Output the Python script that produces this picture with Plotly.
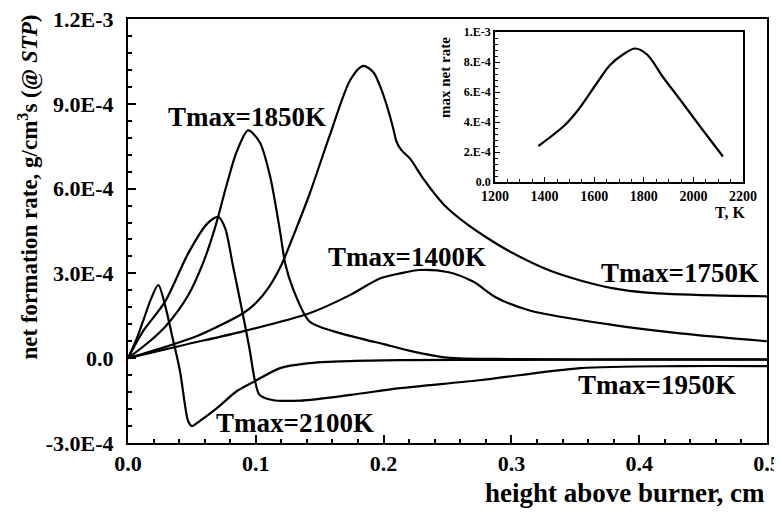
import numpy as np
import plotly.graph_objects as go

# ---------------- data (main panel) ----------------
# height above burner, cm  /  net formation rate, 1e-4 g/cm3s
x_2100 = [0, 0.006, 0.0117, 0.018, 0.0237, 0.029, 0.035, 0.0407, 0.0446, 0.047, 0.050,
          0.0563, 0.0696, 0.085, 0.0994, 0.119, 0.14, 0.174, 0.213, 0.3, 0.4, 0.5]
y_2100 = [0, 0.6, 1.3, 2.1, 2.59, 1.87, 0.7, -0.46, -1.66, -2.22, -2.4,
          -2.22, -1.77, -1.17, -0.81, -0.35, -0.18, -0.10, -0.07, -0.06, -0.05, -0.05]

x_1950 = [0, 0.0117, 0.029, 0.047, 0.062, 0.0706, 0.076, 0.082, 0.09, 0.095, 0.0994,
          0.103, 0.113, 0.135, 0.174, 0.213, 0.275, 0.354, 0.432, 0.5]
y_1950 = [0, 0.95, 2.0, 3.7, 4.76, 5.0, 4.6, 3.3, 1.52, 0.35, -0.81,
          -1.3, -1.48, -1.5, -1.3, -1.06, -0.78, -0.35, -0.28, -0.28]

x_1850 = [0, 0.017, 0.03, 0.047, 0.059, 0.068, 0.077, 0.085, 0.094, 0.103, 0.111,
          0.119, 0.123, 0.129, 0.142, 0.161, 0.187, 0.2, 0.22, 0.25, 0.3, 0.4, 0.5]
y_1850 = [0, 0.6, 1.16, 2.22, 3.4, 4.6, 6.1, 7.3, 8.06, 7.65, 6.47,
          4.48, 3.35, 2.47, 1.3, 0.95, 0.64, 0.5, 0.27, 0.02, -0.03, -0.04, -0.04]

x_1750 = [0, 0.03, 0.056, 0.09, 0.1, 0.11, 0.12, 0.13, 0.142, 0.158, 0.174, 0.184,
          0.192, 0.197, 0.2025, 0.2076, 0.2102, 0.2141, 0.2207, 0.231, 0.2468, 0.265,
          0.283, 0.301, 0.33, 0.354, 0.38, 0.406, 0.458, 0.5]
y_1750 = [0, 0.41, 0.82, 1.59, 1.95, 2.5, 3.3, 4.4, 5.8, 7.9, 9.85, 10.34,
          10.12, 9.65, 8.94, 8.12, 7.65, 7.35, 7.06, 6.35, 5.45, 4.75,
          4.2, 3.72, 3.1, 2.75, 2.47, 2.32, 2.22, 2.19]

x_1400 = [0, 0.043, 0.09, 0.142, 0.174, 0.197, 0.213, 0.228, 0.25, 0.27, 0.288,
          0.315, 0.38, 0.432, 0.5]
y_1400 = [0, 0.46, 0.95, 1.59, 2.24, 2.82, 3.0, 3.12, 3.05, 2.71, 2.15,
          1.68, 1.17, 0.88, 0.6]

series = [
    ("Tmax=2100K", x_2100, y_2100),
    ("Tmax=1950K", x_1950, y_1950),
    ("Tmax=1850K", x_1850, y_1850),
    ("Tmax=1750K", x_1750, y_1750),
    ("Tmax=1400K", x_1400, y_1400),
]

# curve labels: (text, x, y[1e-4])
labels = [
    ("Tmax=1850K", 0.093, 8.54),
    ("Tmax=1400K", 0.218, 3.57),
    ("Tmax=1750K", 0.432, 3.0),
    ("Tmax=1950K", 0.414, -0.95),
    ("Tmax=2100K", 0.131, -2.3),
]

y_tickvals = [-3.0e-4, 0.0, 3.0e-4, 6.0e-4, 9.0e-4, 1.2e-3]
y_ticktext = ["-3.0E-4", "0.0", "3.0E-4", "6.0E-4", "9.0E-4", "1.2E-3"]

# ---------------- data (inset) ----------------
T_inset = [1375, 1482, 1535, 1611, 1664, 1716, 1765, 1813, 1877, 1946, 2027, 2119]
rate_inset = [2.4, 3.8, 4.8, 6.6, 7.8, 8.5, 8.9, 8.5, 7.0, 5.5, 3.7, 1.7]  # 1e-4
inset_y_tickvals = [0, 2e-4, 4e-4, 6e-4, 8e-4, 1e-3]
inset_y_ticktext = ["0.0", "2.E-4", "4.E-4", "6.E-4", "8.E-4", "1.E-3"]

FONT = "Liberation Serif"

# The page body has an 8px margin, so the figure is drawn 8px in from the
# window's top-left corner; the figure is sized to fill the rest of the window.
PW, PH = 639, 424          # plot area in window pixels (x 128..767, y 19..443)

fig = go.Figure()
for name, xs, ys in series:
    fig.add_trace(go.Scatter(
        x=xs, y=[v * 1e-4 for v in ys], mode="lines", name=name,
        line=dict(color="black", width=2.2, shape="spline", smoothing=0.8),
        xaxis="x", yaxis="y", hoverinfo="skip"))

fig.add_trace(go.Scatter(
    x=T_inset, y=[v * 1e-4 for v in rate_inset], mode="lines",
    line=dict(color="black", width=2.2, shape="spline", smoothing=1.0),
    xaxis="x2", yaxis="y2", hoverinfo="skip"))

for text, lx, ly in labels:
    fig.add_annotation(x=lx, y=ly * 1e-4, xref="x", yref="y", text=text,
                       showarrow=False, xanchor="center", yanchor="middle",
                       font=dict(family=FONT, size=27, color="black", weight="bold"))

# axis titles
fig.add_annotation(x=(28 - 128) / PW, y=(443 - 362) / PH, xref="paper", yref="paper",
                   text="net formation rate, g/cm<sup>3</sup>s (@ <i>STP</i>)",
                   textangle=-90, showarrow=False, xanchor="center", yanchor="bottom",
                   font=dict(family=FONT, size=23, color="black", weight="bold"))
fig.add_annotation(x=1.0, y=(443 - 493) / PH, xref="paper", yref="paper",
                   text="height above burner, cm", showarrow=False,
                   xanchor="right", yanchor="middle",
                   font=dict(family=FONT, size=27, color="black", weight="bold"))
# inset titles
fig.add_annotation(x=(445 - 128) / PW, y=(443 - 78) / PH, xref="paper", yref="paper",
                   text="max net rate", textangle=-90, showarrow=False,
                   xanchor="center", yanchor="middle",
                   font=dict(family=FONT, size=15, color="black", weight="bold"))
fig.add_annotation(x=(730 - 128) / PW, y=(443 - 213) / PH, xref="paper", yref="paper",
                   text="T, K", showarrow=False, xanchor="center", yanchor="middle",
                   font=dict(family=FONT, size=16, color="black", weight="bold"))

axis_common = dict(showgrid=False, zeroline=False, showline=True, linecolor="black",
                   mirror=True, ticks="inside", tickcolor="black", automargin=False,
                   ticklabeloverflow="allow")

fig.update_layout(
    width=774, height=506,
    margin=dict(l=120, r=15, t=11, b=71, autoexpand=False),
    paper_bgcolor="white", plot_bgcolor="white",
    showlegend=False,
    xaxis=dict(**axis_common, range=[0, 0.5], tickmode="linear", tick0=0, dtick=0.1,
               tickformat=".1f", linewidth=2, ticklen=8, tickwidth=1.5,
               minor=dict(ticks="inside", ticklen=4, tickcolor="black", dtick=0.02, tick0=0),
               tickfont=dict(family=FONT, size=22, color="black", weight="bold"),
               domain=[0, 1]),
    yaxis=dict(**axis_common, range=[-3.0e-4, 1.2e-3], tickmode="array",
               tickvals=y_tickvals, ticktext=y_ticktext, linewidth=2, ticklen=8, tickwidth=1.5,
               ticklabelstandoff=8,
               minor=dict(ticks="inside", ticklen=4, tickcolor="black",
                          tickmode="linear", dtick=6e-5, tick0=-3e-4),
               tickfont=dict(family=FONT, size=22, color="black", weight="bold"),
               domain=[0, 1]),
    xaxis2=dict(**axis_common, range=[1200, 2200], tickmode="linear", tick0=1200, dtick=200,
                linewidth=1.5, ticklen=5, tickwidth=1,
                minor=dict(ticks="inside", ticklen=3, tickcolor="black", dtick=50, tick0=1200),
                tickfont=dict(family=FONT, size=14, color="black", weight="bold"),
                domain=[(495 - 128) / PW, (743 - 128) / PW], anchor="y2"),
    yaxis2=dict(**axis_common, range=[0, 1e-3], tickmode="array",
                tickvals=inset_y_tickvals, ticktext=inset_y_ticktext,
                linewidth=1.5, ticklen=5, tickwidth=1,
                minor=dict(ticks="inside", ticklen=3, tickcolor="black",
                           tickmode="linear", dtick=4e-5, tick0=0),
                tickfont=dict(family=FONT, size=12, color="black", weight="bold"),
                domain=[(443 - 182) / PH, (443 - 32) / PH], anchor="x2"),
)

fig.write_html("out.html")
